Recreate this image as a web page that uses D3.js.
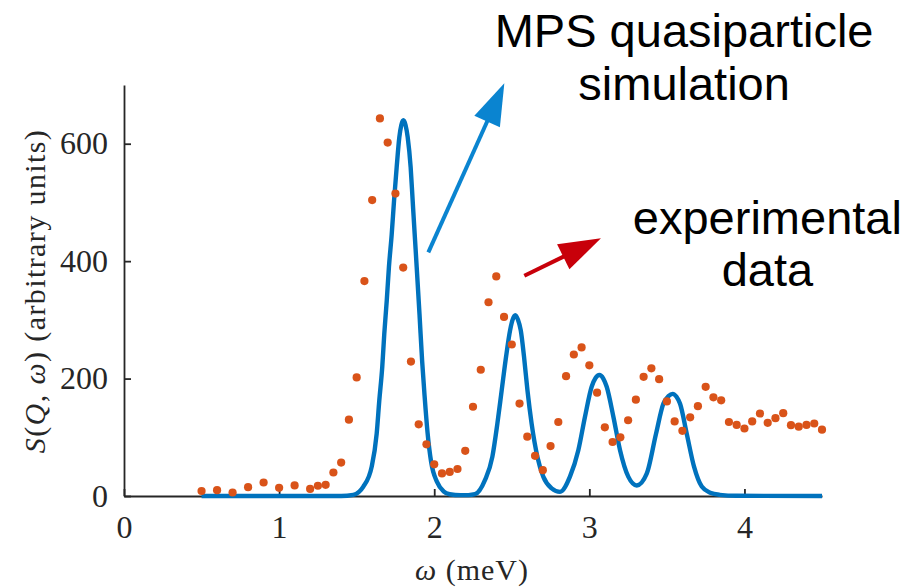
<!DOCTYPE html>
<html>
<head>
<meta charset="utf-8">
<script src="https://cdn.jsdelivr.net/npm/d3@7"></script>
<style>
  html, body { margin: 0; padding: 0; background: #fff; }
  svg { display: block; }
</style>
</head>
<body>
<svg id="chart" width="908" height="587"></svg>
<script>
// ---- Data ----
const omegaExp = [0.50,0.60,0.70,0.80,0.90,1.00,1.10,1.20,
  1.25,1.30,1.35,1.40,1.45,1.50,1.55,1.60,1.65,1.70,1.75,1.80,1.85,1.90,1.95,2.00,2.05,2.10,2.15,2.20,
  2.25,2.30,2.35,2.40,2.45,2.50,2.55,2.60,2.65,2.70,2.75,2.80,2.85,2.90,2.95,3.00,3.05,3.10,3.15,3.20,
  3.25,3.30,3.35,3.40,3.45,3.50,3.55,3.60,3.65,3.70,3.75,3.80,3.85,3.90,3.95,4.00,4.05,4.10,4.15,4.20,
  4.25,4.30,4.35,4.40,4.45,4.50];
const sExp = [8.5,10,6,15,23,14,18,12,
  17.5,19,40,57,130,202,366,504,643,602,515,389,229,122,88,54,38.5,41,46,77,
  152,215,330,374,305,258,157.5,101,68.5,44,85,126,204,241,253,222.6,176,117,92,100,
  129,164,203,217.5,199,161,127,111,134,153,186,168,163,126,121,115,127,140.5,124.6,132.5,
  141,120.6,118,121,123.5,113];

const omegaSim = [0.50,1.40,1.478,1.543,1.597,1.629,1.646,1.665,1.678,1.694,
  1.708,1.726,1.741,1.758,1.775,1.788,1.801,1.815,1.829,1.848,
  1.861,1.874,1.887,1.905,1.922,1.938,1.957,1.98,2.018,2.06,
  2.10,2.17,2.22,2.263,2.327,2.375,2.407,2.435,2.463,2.489,
  2.505,2.523,2.54,2.558,2.579,2.601,2.628,2.665,2.703,2.757,
  2.811,2.875,2.929,2.972,3.015,3.04,3.065,3.09,3.112,3.155,
  3.198,3.251,3.306,3.370,3.43,3.477,3.51,3.537,3.562,3.585,
  3.628,3.675,3.725,3.779,3.84,3.95,4.50];
const sSim = [0,0,2,16,50,106,163,220,276,333,
  390,446,503,560,611,632,640,632,611,560,
  503,446,390,310,230,170,108,58,24,8,
  3,1.5,1.5,3,27,67,123,180,237,282,
  300,308,300,282,237,180,123,67,33,13,
  7,33,78,135,186,201,206,200,186,135,
  78,33,18,38,106,157,170,174,169,157,
  106,50,16,5.6,2,0.3,0];

const xTicks = [0, 1, 2, 3, 4];
const yTicks = [0, 200, 400, 600];
const xDomain = [0, 4.5];
const yDomain = [0, 700];

// Annotations (in data units)
const annoLabels = ["MPS quasiparticle", "simulation", "experimental", "data"];
const annoLabelX = [3.611, 3.611, 4.148, 4.148];
const annoLabelY = [765, 674, 446, 357];
const arrowFrom = [[1.962, 415], [2.581, 375]];
const arrowTo   = [[2.452, 703], [3.075, 439]];
const arrowColors = ["#0a84d0", "#c8000a"];

// ---- Drawing ----
const svg = d3.select("#chart");
const x = d3.scaleLinear().domain(xDomain).range([124, 822]);
const y = d3.scaleLinear().domain(yDomain).range([496, 85]);

const axisColor = "#262626";
const serif = "'Liberation Serif', 'Times New Roman', serif";

const gx = svg.append("g").attr("transform", `translate(0,${y(0)})`)
  .call(d3.axisBottom(x).tickValues(xTicks).tickSizeInner(-7).tickSizeOuter(0).tickPadding(19)
        .tickFormat(d3.format("d")));
const gy = svg.append("g").attr("transform", `translate(${x(0)},0)`)
  .call(d3.axisLeft(y).tickValues(yTicks).tickSizeInner(-7).tickSizeOuter(0).tickPadding(16)
        .tickFormat(d3.format("d")));
[gx, gy].forEach(g => {
  g.select(".domain").attr("stroke", axisColor).attr("stroke-width", 1.8);
  g.selectAll(".tick line").attr("stroke", axisColor).attr("stroke-width", 1.8);
  g.selectAll(".tick text").attr("fill", "#262626")
    .style("font-family", serif).style("font-size", "32px");
});

// Axis labels
const xl = svg.append("text").attr("x", 472).attr("y", 580).attr("text-anchor", "middle")
  .style("font-family", serif).style("font-size", "30px").style("letter-spacing", "1px")
  .attr("fill", "#262626");
xl.append("tspan").style("font-style", "italic").text("ω");
xl.append("tspan").text(" (meV)");

const yl = svg.append("text").attr("transform", "translate(45,291) rotate(-90)")
  .attr("text-anchor", "middle")
  .style("font-family", serif).style("font-size", "30px").style("letter-spacing", "1.4px")
  .attr("fill", "#262626");
yl.append("tspan").style("font-style", "italic").text("S");
yl.append("tspan").text("(");
yl.append("tspan").style("font-style", "italic").text("Q");
yl.append("tspan").text(", ");
yl.append("tspan").style("font-style", "italic").text("ω");
yl.append("tspan").text(") (arbitrary units)");

// Simulation line
const simData = omegaSim.map((w, i) => [w, sSim[i]]);
svg.append("path").datum(simData)
  .attr("fill", "none").attr("stroke", "#0072BD").attr("stroke-width", 4.4)
  .attr("stroke-linejoin", "round")
  .attr("d", d3.line().x(d => x(d[0])).y(d => y(d[1])).curve(d3.curveMonotoneX));

// Experimental points
svg.append("g").selectAll("circle").data(omegaExp.map((w, i) => [w, sExp[i]]))
  .join("circle")
  .attr("cx", d => x(d[0])).attr("cy", d => y(d[1])).attr("r", 4.1)
  .attr("fill", "#D95319");

// Arrows
arrowFrom.forEach((f, i) => {
  const x0 = x(f[0]), y0 = y(f[1]);
  const x1 = x(arrowTo[i][0]), y1 = y(arrowTo[i][1]);
  const len = Math.hypot(x1 - x0, y1 - y0);
  const ux = (x1 - x0) / len, uy = (y1 - y0) / len;
  const headL = 42, headW = 14;
  const bx = x1 - ux * headL, by = y1 - uy * headL;
  svg.append("line").attr("x1", x0).attr("y1", y0).attr("x2", bx + ux * 2).attr("y2", by + uy * 2)
    .attr("stroke", arrowColors[i]).attr("stroke-width", 4);
  svg.append("path")
    .attr("d", `M${x1},${y1}L${bx - uy * headW},${by + ux * headW}L${bx + uy * headW},${by - ux * headW}Z`)
    .attr("fill", arrowColors[i]);
});

// Annotation text
annoLabels.forEach((t, i) => {
  svg.append("text").attr("x", x(annoLabelX[i])).attr("y", y(annoLabelY[i]))
    .attr("text-anchor", "middle")
    .style("font-family", "'Liberation Sans', Arial, sans-serif").style("font-size", "47px")
    .attr("fill", "#000").text(t);
});
</script>
</body>
</html>
